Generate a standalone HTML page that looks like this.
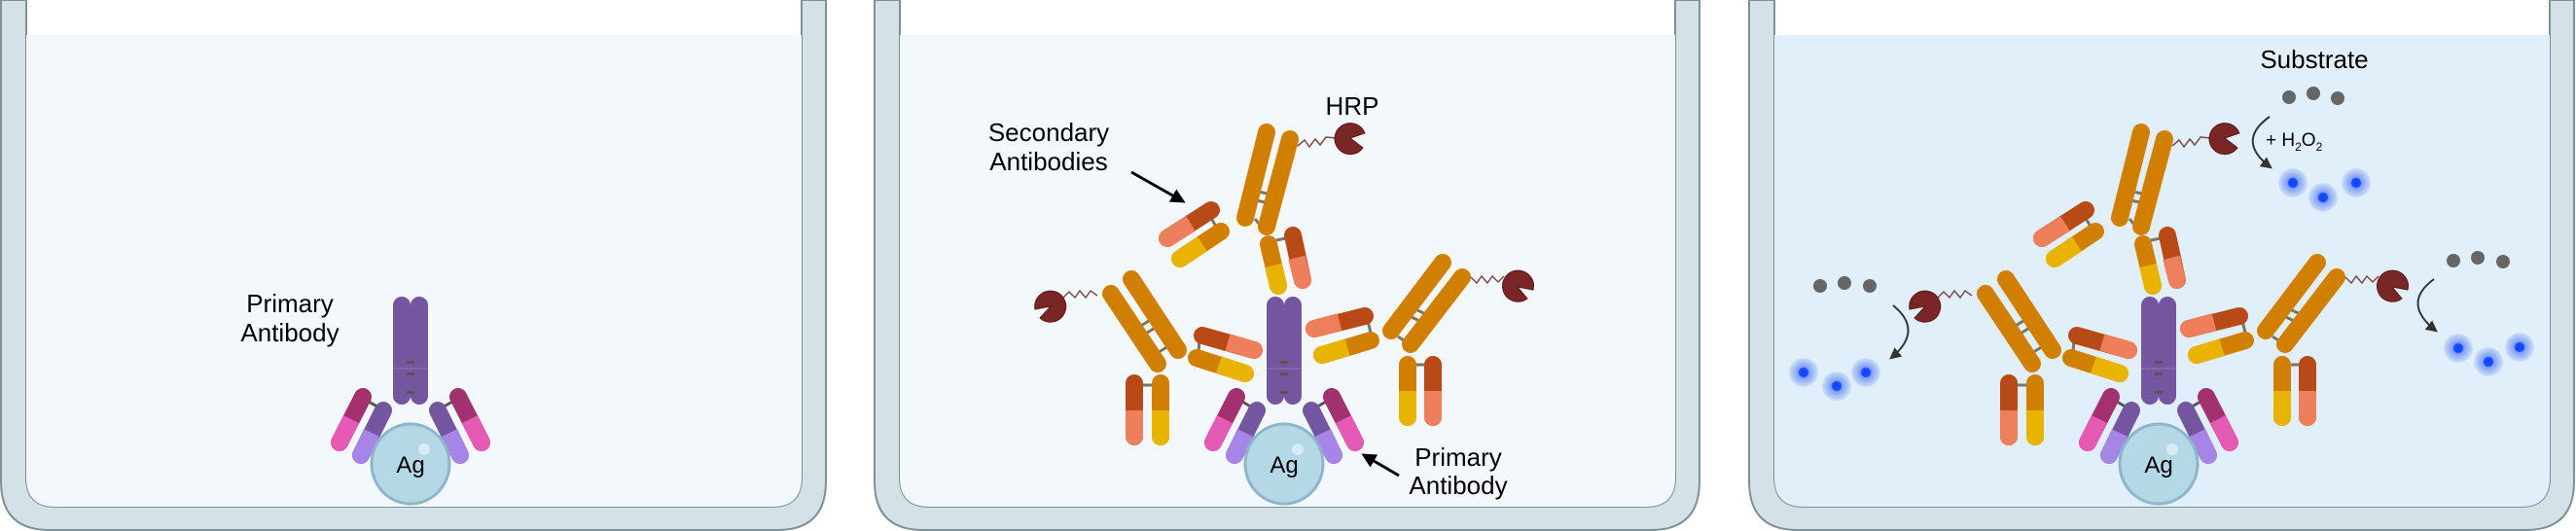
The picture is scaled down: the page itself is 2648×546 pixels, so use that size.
<!DOCTYPE html>
<html><head><meta charset="utf-8"><style>
html,body{margin:0;padding:0;background:#fff;}
svg{display:block;}
text{font-family:"Liberation Sans",sans-serif;fill:#000;}
</style></head><body>
<svg width="2648" height="546" viewBox="0 0 2648 546" xmlns="http://www.w3.org/2000/svg">
<defs>
<radialGradient id="glow">
<stop offset="0" stop-color="#1040ff"/>
<stop offset="0.3" stop-color="#1a4dff"/>
<stop offset="0.38" stop-color="#7f9ff5"/>
<stop offset="0.7" stop-color="#a7c0f5"/>
<stop offset="1" stop-color="#cfe0f8"/>
</radialGradient>
<marker id="ah" viewBox="0 0 10 10" refX="8" refY="5" markerWidth="5" markerHeight="5" orient="auto-start-reverse">
<path d="M0,0 L10,5 L0,10 Z" fill="#000"/>
</marker>
<marker id="ah2" viewBox="0 0 10 10" refX="8" refY="5" markerWidth="6" markerHeight="6" orient="auto">
<path d="M0,0 L10,5 L0,10 Z" fill="#333"/>
</marker>
<g id="well">
<path d="M1,0 V495 Q1,545 51,545 H799 Q849,545 849,495 V0 H824 V491 Q824,521 794,521 H57 Q27,521 27,491 V0 Z" fill="#d4e2e7" stroke="#7d9197" stroke-width="2"/>
</g>
<g id="pri" stroke-width="18">
<line x1="413" y1="314" x2="413" y2="407" stroke="#7355a0" stroke-linecap="round"/>
<line x1="431" y1="314" x2="431" y2="407" stroke="#7355a0" stroke-linecap="round"/>
<line x1="404" y1="379" x2="440" y2="379" stroke="#8f78b8" stroke-width="1"/>
<rect x="418" y="371" width="8" height="3" fill="#555" stroke="none"/>
<rect x="418" y="383" width="8" height="3" fill="#555" stroke="none"/>
<rect x="418" y="402" width="8" height="3" fill="#555" stroke="none"/>
<line x1="379" y1="413" x2="391" y2="420" stroke="#555" stroke-width="3"/>
<line x1="373" y1="408" x2="349" y2="455" stroke="#a3306f" stroke-linecap="round"/>
<line x1="361" y1="431" x2="349" y2="455" stroke="#e55ab4" stroke-linecap="butt"/>
<circle cx="349" cy="455" r="9" fill="#e55ab4" stroke="none"/>
<line x1="394" y1="422" x2="371" y2="468" stroke="#7355a0" stroke-linecap="round"/>
<line x1="382" y1="445" x2="371" y2="468" stroke="#a685e6" stroke-linecap="butt"/>
<circle cx="371" cy="468" r="9" fill="#a685e6" stroke="none"/>
<line x1="465" y1="413" x2="453" y2="420" stroke="#555" stroke-width="3"/>
<line x1="471" y1="408" x2="495" y2="455" stroke="#a3306f" stroke-linecap="round"/>
<line x1="483" y1="431" x2="495" y2="455" stroke="#e55ab4" stroke-linecap="butt"/>
<circle cx="495" cy="455" r="9" fill="#e55ab4" stroke="none"/>
<line x1="450" y1="422" x2="473" y2="468" stroke="#7355a0" stroke-linecap="round"/>
<line x1="462" y1="445" x2="473" y2="468" stroke="#a685e6" stroke-linecap="butt"/>
<circle cx="473" cy="468" r="9" fill="#a685e6" stroke="none"/>
<ellipse cx="422" cy="477" rx="40" ry="41" fill="#b5d8e7" stroke="#8db6ca" stroke-width="3"/>
<circle cx="436" cy="462" r="6" fill="#d8ecf3" stroke="none"/>
</g>
<g id="sec" stroke-width="18">
<line x1="1290" y1="225" x2="1294" y2="230" stroke="#776" stroke-width="3"/>
<line x1="1289" y1="196" x2="1311" y2="201" stroke="#776" stroke-width="3"/>
<line x1="1287" y1="205" x2="1309" y2="210" stroke="#776" stroke-width="3"/>
<line x1="1302" y1="136" x2="1280" y2="224" stroke="#d17f00" stroke-linecap="round"/>
<line x1="1326" y1="143" x2="1302" y2="233" stroke="#d17f00" stroke-linecap="round"/>
<line x1="1246" y1="226" x2="1250" y2="233" stroke="#776" stroke-width="3"/>
<line x1="1245" y1="216" x2="1200" y2="245" stroke="#b84a18" stroke-linecap="round"/>
<line x1="1224" y1="230" x2="1200" y2="245" stroke="#ee7f5c" stroke-linecap="butt"/>
<circle cx="1200" cy="245" r="9" fill="#ee7f5c" stroke="none"/>
<line x1="1255" y1="238" x2="1213" y2="266" stroke="#d17f00" stroke-linecap="round"/>
<line x1="1236" y1="251" x2="1213" y2="266" stroke="#e8b400" stroke-linecap="butt"/>
<circle cx="1213" cy="266" r="9" fill="#e8b400" stroke="none"/>
<line x1="1312" y1="247" x2="1322" y2="245" stroke="#776" stroke-width="3"/>
<line x1="1329" y1="242" x2="1339" y2="288" stroke="#b84a18" stroke-linecap="round"/>
<line x1="1333" y1="265" x2="1339" y2="288" stroke="#ee7f5c" stroke-linecap="butt"/>
<circle cx="1339" cy="288" r="9" fill="#ee7f5c" stroke="none"/>
<line x1="1304" y1="251" x2="1314" y2="294" stroke="#d17f00" stroke-linecap="round"/>
<line x1="1309" y1="273" x2="1314" y2="294" stroke="#e8b400" stroke-linecap="butt"/>
<circle cx="1314" cy="294" r="9" fill="#e8b400" stroke="none"/>
<polyline points="1334,150 1341,144 1346,151 1352,143 1357,149 1363,141 1374,142" fill="none" stroke="#7a4a4a" stroke-width="1.5"/>
<path d="M1388,142 L1403,137 A16,16 0 1 0 1401,152 Z" fill="#7a2626" stroke="#5a1a1a" stroke-width="1"/>
<line x1="1168" y1="338" x2="1184" y2="328" stroke="#776" stroke-width="3"/>
<line x1="1173" y1="346" x2="1189" y2="336" stroke="#776" stroke-width="3"/>
<line x1="1188" y1="364" x2="1201" y2="356" stroke="#776" stroke-width="3"/>
<line x1="1142" y1="302" x2="1190" y2="374" stroke="#d17f00" stroke-linecap="round"/>
<line x1="1163" y1="287" x2="1211" y2="360" stroke="#d17f00" stroke-linecap="round"/>
<line x1="1170" y1="396" x2="1190" y2="396" stroke="#776" stroke-width="3"/>
<line x1="1166" y1="394" x2="1166" y2="449" stroke="#b84a18" stroke-linecap="round"/>
<line x1="1166" y1="422" x2="1166" y2="449" stroke="#ee7f5c" stroke-linecap="butt"/>
<circle cx="1166" cy="449" r="9" fill="#ee7f5c" stroke="none"/>
<line x1="1193" y1="394" x2="1193" y2="449" stroke="#d17f00" stroke-linecap="round"/>
<line x1="1193" y1="422" x2="1193" y2="449" stroke="#e8b400" stroke-linecap="butt"/>
<circle cx="1193" cy="449" r="9" fill="#e8b400" stroke="none"/>
<line x1="1233" y1="350" x2="1232" y2="362" stroke="#776" stroke-width="3"/>
<line x1="1236" y1="345" x2="1289" y2="360" stroke="#b84a18" stroke-linecap="round"/>
<line x1="1262" y1="352" x2="1289" y2="360" stroke="#ee7f5c" stroke-linecap="butt"/>
<circle cx="1289" cy="360" r="9" fill="#ee7f5c" stroke="none"/>
<line x1="1230" y1="368" x2="1280" y2="384" stroke="#d17f00" stroke-linecap="round"/>
<line x1="1253" y1="375" x2="1280" y2="384" stroke="#e8b400" stroke-linecap="butt"/>
<circle cx="1280" cy="384" r="9" fill="#e8b400" stroke="none"/>
<polyline points="1128,304 1121,299 1116,306 1110,299 1105,306 1099,300 1093,306" fill="none" stroke="#7a4a4a" stroke-width="1.5"/>
<path d="M1080,315 L1064,318 A16,16 0 1 1 1069,327 Z" fill="#7a2626" stroke="#5a1a1a" stroke-width="1"/>
<line x1="1455" y1="318" x2="1472" y2="326" stroke="#776" stroke-width="3"/>
<line x1="1451" y1="326" x2="1467" y2="334" stroke="#776" stroke-width="3"/>
<line x1="1437" y1="346" x2="1446" y2="352" stroke="#776" stroke-width="3"/>
<line x1="1483" y1="270" x2="1430" y2="340" stroke="#d17f00" stroke-linecap="round"/>
<line x1="1503" y1="285" x2="1450" y2="354" stroke="#d17f00" stroke-linecap="round"/>
<line x1="1452" y1="375" x2="1468" y2="375" stroke="#776" stroke-width="3"/>
<line x1="1447" y1="375" x2="1447" y2="429" stroke="#d17f00" stroke-linecap="round"/>
<line x1="1447" y1="402" x2="1447" y2="429" stroke="#e8b400" stroke-linecap="butt"/>
<circle cx="1447" cy="429" r="9" fill="#e8b400" stroke="none"/>
<line x1="1473" y1="375" x2="1473" y2="429" stroke="#b84a18" stroke-linecap="round"/>
<line x1="1473" y1="402" x2="1473" y2="429" stroke="#ee7f5c" stroke-linecap="butt"/>
<circle cx="1473" cy="429" r="9" fill="#ee7f5c" stroke="none"/>
<line x1="1406" y1="330" x2="1409" y2="342" stroke="#776" stroke-width="3"/>
<line x1="1403" y1="325" x2="1351" y2="338" stroke="#b84a18" stroke-linecap="round"/>
<line x1="1377" y1="331" x2="1351" y2="338" stroke="#ee7f5c" stroke-linecap="butt"/>
<circle cx="1351" cy="338" r="9" fill="#ee7f5c" stroke="none"/>
<line x1="1409" y1="350" x2="1359" y2="365" stroke="#d17f00" stroke-linecap="round"/>
<line x1="1385" y1="357" x2="1359" y2="365" stroke="#e8b400" stroke-linecap="butt"/>
<circle cx="1359" cy="365" r="9" fill="#e8b400" stroke="none"/>
<polyline points="1512,285 1518,291 1523,284 1529,291 1534,284 1540,290 1546,284" fill="none" stroke="#7a4a4a" stroke-width="1.5"/>
<path d="M1560,295 L1576,298 A16,16 0 1 0 1570,307 Z" fill="#7a2626" stroke="#5a1a1a" stroke-width="1"/>
</g>
</defs>

<use href="#well" x="0"/>
<path d="M27,36 H824 V491 Q824,521 794,521 H57 Q27,521 27,491 Z" fill="#f3f8fc"/>
<use href="#pri" x="0"/>
<text x="298" y="321" font-size="26" text-anchor="middle">Primary</text>
<text x="298" y="351" font-size="26" text-anchor="middle">Antibody</text>
<text x="422" y="486" font-size="24" text-anchor="middle">Ag</text>

<use href="#well" x="898"/>
<path d="M925,36 H1722 V491 Q1722,521 1692,521 H955 Q925,521 925,491 Z" fill="#f3f8fc"/>
<use href="#pri" x="898"/>
<use href="#sec" x="0"/>
<text x="1320" y="486" font-size="24" text-anchor="middle">Ag</text>
<text x="1078" y="145" font-size="26" text-anchor="middle">Secondary</text>
<text x="1078" y="175" font-size="26" text-anchor="middle">Antibodies</text>
<text x="1390" y="118" font-size="26" text-anchor="middle">HRP</text>
<text x="1499" y="479" font-size="26" text-anchor="middle">Primary</text>
<text x="1499" y="508" font-size="26" text-anchor="middle">Antibody</text>
<line x1="1163" y1="177" x2="1216" y2="207" stroke="#000" stroke-width="3" marker-end="url(#ah)"/>
<line x1="1438" y1="489" x2="1402" y2="468" stroke="#000" stroke-width="3" marker-end="url(#ah)"/>

<use href="#well" x="1797"/>
<path d="M1824,36 H2621 V491 Q2621,521 2591,521 H1854 Q1824,521 1824,491 Z" fill="#e1effb"/>
<use href="#pri" x="1797"/>
<use href="#sec" x="899"/>
<text x="2219" y="486" font-size="24" text-anchor="middle">Ag</text>
<text x="2379" y="70" font-size="26" text-anchor="middle">Substrate</text>
<text x="2329" y="150" font-size="19">+ H<tspan font-size="12" dy="5">2</tspan><tspan dy="-5">O</tspan><tspan font-size="12" dy="5">2</tspan></text>
<g fill="#666">
<circle cx="2353" cy="100" r="7"/><circle cx="2378" cy="96" r="7"/><circle cx="2403" cy="101" r="7"/>
<circle cx="1871" cy="294" r="7"/><circle cx="1896" cy="291" r="7"/><circle cx="1922" cy="294" r="7"/>
<circle cx="2522" cy="268" r="7"/><circle cx="2547" cy="265" r="7"/><circle cx="2573" cy="269" r="7"/>
</g>
<g fill="url(#glow)">
<circle cx="2357" cy="188" r="15"/><circle cx="2388" cy="203" r="15"/><circle cx="2422" cy="188" r="15"/>
<circle cx="1854" cy="383" r="15"/><circle cx="1888" cy="397" r="15"/><circle cx="1918" cy="383" r="15"/>
<circle cx="2527" cy="358" r="15"/><circle cx="2558" cy="372" r="15"/><circle cx="2590" cy="357" r="15"/>
</g>
<g fill="none" stroke="#333" stroke-width="2">
<path d="M2333,120 Q2298,145 2334,172" marker-end="url(#ah2)"/>
<path d="M1946,314 Q1978,340 1944,368" marker-end="url(#ah2)"/>
<path d="M2502,287 Q2468,312 2504,340" marker-end="url(#ah2)"/>
</g>
</svg>
</body></html>
